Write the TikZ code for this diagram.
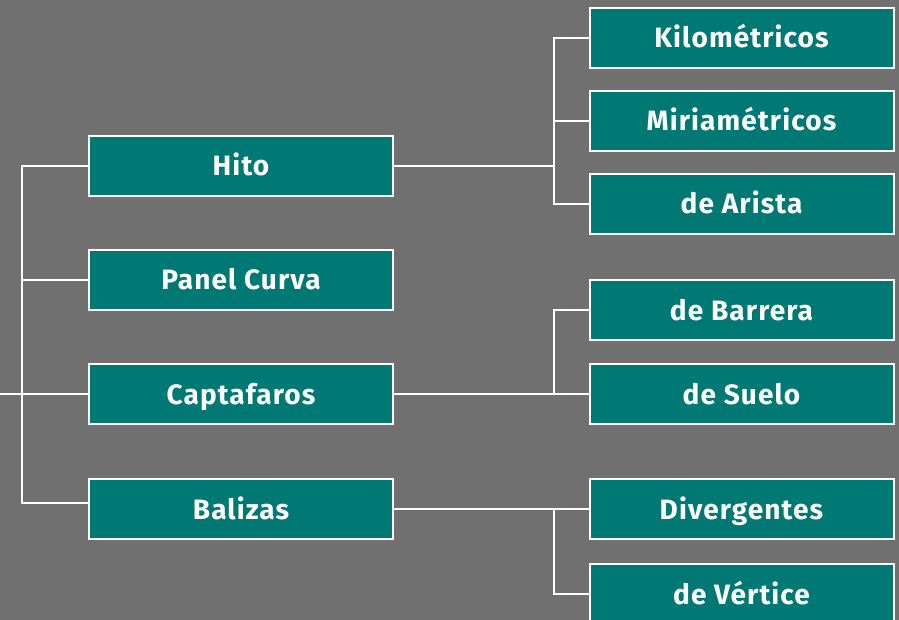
\documentclass[tikz,border=0pt]{standalone}
\usepackage{fontspec}
\setmainfont{Fira Sans}
\usepackage{tikz}
\usetikzlibrary{positioning}
\usepackage{xcolor}
\definecolor{fondo}{HTML}{707070}
\definecolor{verde}{HTML}{007873}

\tikzset{
  caja/.style={draw=white, line width=2pt, fill=verde, text=white,
    minimum width=304pt, minimum height=60pt, inner sep=0pt,
    text height=20pt, text depth=0pt,
    font=\fontsize{28}{32}\selectfont\bfseries\addfontfeatures{LetterSpace=4}},
  linea/.style={draw=white, line width=2pt}
}

\begin{document}
\begin{tikzpicture}[x=1pt,y=-1pt]
\fill[fondo] (0,0) rectangle (899,620);
\useasboundingbox (0,0) rectangle (899,620);
\clip (0,0) rectangle (899,620);

\node[caja] (hito) at (241,166) {Hito};
\node[caja] (panel) at (241,280) {Panel Curva};
\node[caja] (capt) at (241,394) {Captafaros};
\node[caja] (bal) at (241,509) {Balizas};

\node[caja] (kilo) at (741.5,38) {Kilométricos};
\node[caja] (miria) at (741.5,121) {Miriamétricos};
\node[caja] (arista) at (741.5,204) {de Arista};
\node[caja] (barrera) at (741.5,310) {de Barrera};
\node[caja] (suelo) at (741.5,394) {de Suelo};
\node[caja] (diver) at (741.5,509) {Divergentes};
\node[caja] (vert) at (741.5,594) {de Vértice};

\coordinate (borde) at (0,394);
\coordinate (tronco) at (22,0);
\coordinate (rama) at (554,0);

% tronco izquierdo
\draw[linea] (borde) -- (capt.west);
\draw[linea] (hito.west) -- (hito.west -| tronco) -- ([yshift=6pt]bal.west -| tronco) -- ([yshift=6pt]bal.west);
\draw[linea] (panel.west) -- (panel.west -| tronco);

% ramas derechas
\draw[linea] (hito.east) -- (hito.east -| rama);
\draw[linea] (kilo.west) -- (kilo.west -| rama) -- (arista.west -| rama) -- (arista.west);
\draw[linea] (miria.west) -- (miria.west -| rama);

\draw[linea] (capt.east) -- (suelo.west);
\draw[linea] (barrera.west) -- (barrera.west -| rama) -- (suelo.west -| rama);

\draw[linea] (bal.east) -- (diver.west);
\draw[linea] (diver.west -| rama) -- (vert.west -| rama) -- (vert.west);

\end{tikzpicture}
\end{document}
